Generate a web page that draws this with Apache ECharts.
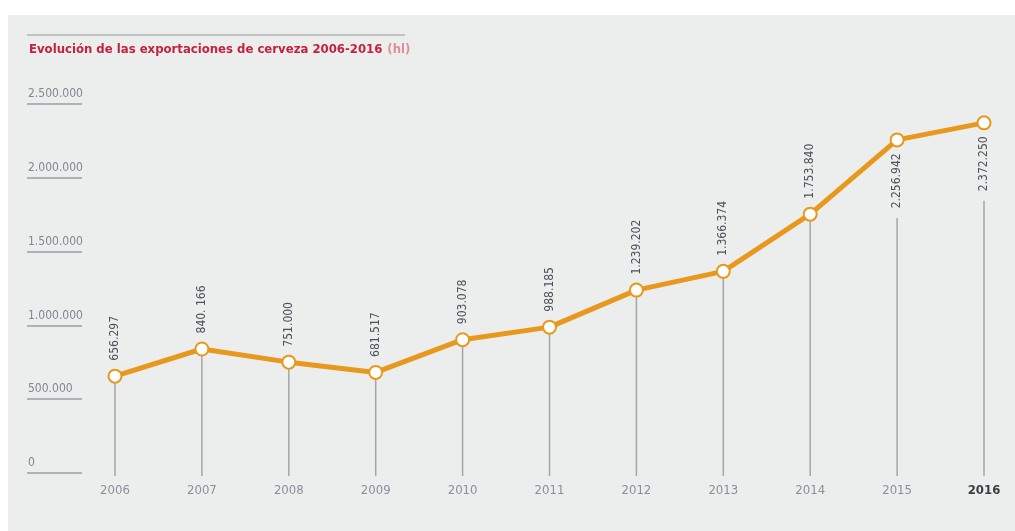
<!DOCTYPE html>
<html>
<head>
<meta charset="utf-8">
<script src="https://cdn.jsdelivr.net/npm/echarts@6/dist/echarts.min.js"></script>
<style>
html,body{margin:0;padding:0;background:#ffffff;}
#c{width:1015px;height:531px;}
</style>
</head>
<body>
<div id="c"></div>
<script>
const years = ['2006','2007','2008','2009','2010','2011','2012','2013','2014','2015','2016'];
const exportsHl = [656297, 840166, 751000, 681517, 903078, 988185, 1239202, 1366374, 1753840, 2256942, 2372250];
const valueLabels = ['656.297','840. 166','751.000','681.517','903.078','988.185','1.239.202','1.366.374','1.753.840','2.256.942','2.372.250'];
const labelBelow = [false,false,false,false,false,false,false,false,false,true,true];
const yTicks = [0, 500000, 1000000, 1500000, 2000000, 2500000];
const yTickLabels = ['0','500.000','1.000.000','1.500.000','2.000.000','2.500.000'];

const FONT = "'DejaVu Sans Condensed','Liberation Sans Narrow','Arial Narrow',sans-serif";
const ORANGE = '#e8981c';
const BG = '#eceeed';

const chart = echarts.init(document.getElementById('c'), null, {renderer:'canvas'});

const gridTop = 104, gridBottom = 58;

const option = {
  backgroundColor: '#ffffff',
  animation: false,
  graphic: [
    {type:'rect', z:-10, shape:{x:8,y:15,width:1007,height:516}, style:{fill:BG}},
    {type:'line', z:-5, shape:{x1:27,y1:35,x2:405,y2:35}, style:{stroke:'#b3b3b3', lineWidth:1.5}}
  ],
  title: {
    left: 29, top: 41, padding: 0,
    text: '{a|Evolución de las exportaciones de cerveza 2006-2016} {b|(hl)}',
    textStyle: {
      rich: {
        a: {fontFamily: FONT, fontSize: 13, fontWeight: 'bold', color: '#c4223c'},
        b: {fontFamily: FONT, fontSize: 13, color: '#df8d9c'}
      }
    }
  },
  grid: [
    {left: 115, right: 31, top: gridTop, bottom: gridBottom},
    {left: 27, width: 55, top: gridTop, bottom: gridBottom}
  ],
  xAxis: [
    {
      type: 'category', data: years, boundaryGap: false, gridIndex: 0,
      axisLine: {show:false}, axisTick: {show:false}, splitLine:{show:false},
      axisLabel: {
        margin: 11, fontFamily: FONT, fontSize: 13, color: '#8a909b',
        formatter: function(v){ return v === '2016' ? '{b|' + v + '}' : v; },
        rich: {b: {fontFamily: FONT, fontSize: 13, fontWeight: 'bold', color: '#3a3d42'}}
      }
    },
    {type:'value', gridIndex:1, show:false, min:0, max:1}
  ],
  yAxis: [
    {type:'value', gridIndex:0, min:0, max:2500000, interval:500000, show:false},
    {
      type:'value', gridIndex:1, min:0, max:2500000, interval:500000,
      axisLine:{show:false}, axisTick:{show:false},
      splitLine:{show:true, lineStyle:{color:'#9a9ea3', width:1.5}},
      axisLabel:{
        inside:true, margin:1, align:'left', verticalAlign:'bottom',
        padding:[0,0,4,0],
        fontFamily: FONT, fontSize: 12, color:'#808692',
        formatter: function(v){ const i = yTicks.indexOf(v); return i >= 0 ? yTickLabels[i] : ''; }
      }
    }
  ],
  series: [
    {
      type:'custom', xAxisIndex:0, yAxisIndex:0, z:1,
      data: exportsHl.map((v,i)=>[i, v]),
      renderItem: function(params, api){
        const i = api.value(0);
        const top = api.coord([i, api.value(1)]);
        const base = api.coord([i, 0]);
        const startY = labelBelow[i] ? top[1] + 78 : top[1];
        return {
          type:'line',
          shape:{x1:top[0], y1:startY, x2:top[0], y2:base[1] + 3},
          style:{stroke:'#a3a6aa', lineWidth:1.5}
        };
      }
    },
    {
      type:'line', xAxisIndex:0, yAxisIndex:0, z:3,
      data: exportsHl.map((v,i)=>({
        value: v,
        label: labelBelow[i]
          ? {position:'bottom', align:'right', distance:6}
          : {position:'top', align:'left', distance:8}
      })),
      lineStyle:{color:ORANGE, width:5},
      symbol:'circle', symbolSize:13,
      itemStyle:{color:'#ffffff', borderColor:ORANGE, borderWidth:2},
      label:{
        show:true, rotate:90, verticalAlign:'middle',
        fontFamily: FONT, fontSize: 12, color:'#4d525a',
        formatter: function(p){ return valueLabels[p.dataIndex]; }
      }
    }
  ]
};
chart.setOption(option);
</script>
</body>
</html>
